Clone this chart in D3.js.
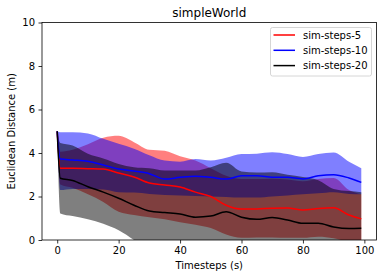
<!DOCTYPE html>
<html>
<head>
<meta charset="utf-8">
<script src="https://cdnjs.cloudflare.com/ajax/libs/d3/7.8.5/d3.min.js"></script>
<style>
  body { margin: 0; background: #fff; }
  svg { font-family: 'DejaVu Sans', sans-serif; }
</style>
</head>
<body>
<svg class="chart" width="386" height="278"></svg>
<script>
let steps = [0, 1, 5, 10, 15, 20, 25, 30, 35, 40, 45, 50, 55, 60, 65, 70, 75, 80, 85, 90, 95, 99];

let redMean = [5, 3.3, 3.3, 3.28, 3.26, 3.08, 2.9, 2.62, 2.53, 2.44, 2.2, 2.0, 1.6, 1.42, 1.43, 1.46, 1.47, 1.38, 1.45, 1.48, 1.15, 0.97];
let redLo = [5, 2.55, 2.4, 2.1, 1.75, 1.3, 1.15, 1.05, 0.95, 0.82, 0.7, 0.55, 0.25, 0.1, 0.12, 0.12, 0.1, 0.1, 0.15, 0.08, -0.1, -0.2];
let redHi = [5, 4.06, 4.15, 4.4, 4.7, 4.79, 4.5, 4.15, 4.1, 3.85, 3.65, 3.3, 2.95, 2.8, 2.8, 2.82, 2.78, 2.7, 2.8, 2.85, 2.3, 2.1];

let blueMean = [5, 3.72, 3.68, 3.62, 3.45, 3.26, 3.17, 3.05, 2.8, 2.88, 2.93, 2.88, 2.8, 2.95, 2.95, 2.89, 2.88, 2.81, 2.95, 3.0, 2.85, 2.65];
let blueLo = [5, 2.3, 2.35, 2.35, 2.32, 2.2, 2.18, 2.12, 2.07, 2.05, 2.02, 2.0, 1.98, 1.95, 1.95, 2.0, 2.05, 2.1, 2.15, 2.2, 2.12, 2.1];
let blueHi = [5, 4.95, 4.95, 4.9, 4.65, 4.42, 4.2, 3.9, 3.65, 3.6, 3.72, 3.65, 3.78, 3.95, 3.97, 4.03, 3.95, 3.82, 3.95, 4.02, 3.6, 3.3];

let blackMean = [5, 2.84, 2.74, 2.45, 2.2, 1.92, 1.6, 1.33, 1.26, 1.2, 1.05, 1.1, 1.3, 1.05, 0.95, 1.03, 0.92, 0.77, 0.77, 0.6, 0.53, 0.54];
let blackLo = [5, 1.22, 1.1, 0.95, 0.75, 0.45, 0.0, -0.5, -0.6, -0.7, -1.0, -1.1, -1.0, -1.1, -1.2, -1.1, -1.2, -1.3, -1.2, -1.1, -1.2, -1.1];
let blackHi = [5, 4.46, 4.35, 3.97, 3.75, 3.5, 3.35, 3.3, 3.2, 3.2, 3.2, 3.35, 3.55, 3.15, 3.1, 3.12, 3.0, 2.9, 2.75, 2.35, 2.25, 2.2];

let seriesNames = ['sim-steps-5', 'sim-steps-10', 'sim-steps-20'];
let seriesColors = ['red', 'blue', 'black'];
let xTicks = [0, 20, 40, 60, 80, 100];
let yTicks = [0, 2, 4, 6, 8, 10];

let series = [
  {mean: redMean, lo: redLo, hi: redHi},
  {mean: blueMean, lo: blueLo, hi: blueHi},
  {mean: blackMean, lo: blackLo, hi: blackHi}
];

let plotL = 42, plotR = 376.5, plotT = 22.5, plotB = 240;

let x = d3.scaleLinear().domain([-4.95, 103.95]).range([plotL, plotR]);
let y = d3.scaleLinear().domain([0, 10]).range([plotB, plotT]);

let svg = d3.select('svg.chart');

svg.append('clipPath')
  .attr('id', 'plotClip')
  .append('rect')
  .attr('x', plotL)
  .attr('y', plotT)
  .attr('width', plotR - plotL)
  .attr('height', plotB - plotT);

let plot = svg.append('g').attr('clip-path', 'url(#plotClip)');

let band = d3.area()
  .x((d, i) => x(steps[i]))
  .y0(d => y(d[0]))
  .y1(d => y(d[1]))
  .curve(d3.curveMonotoneX);

let line = d3.line()
  .x((d, i) => x(steps[i]))
  .y(d => y(d))
  .curve(d3.curveMonotoneX);

series.forEach((s, k) => {
  plot.append('path')
    .datum(s.lo.map((v, i) => [v, s.hi[i]]))
    .attr('d', band)
    .style('fill', seriesColors[k])
    .style('fill-opacity', 0.5)
    .style('stroke', 'none');
});

series.forEach((s, k) => {
  plot.append('path')
    .datum(s.mean)
    .attr('d', line)
    .style('fill', 'none')
    .style('stroke', seriesColors[k])
    .style('stroke-width', '1.5px');
});

// axes
let xAxis = svg.append('g')
  .attr('transform', `translate(0,${plotB})`)
  .call(d3.axisBottom(x).tickValues(xTicks).tickSizeOuter(0).tickSize(3.5).tickPadding(3.5));

let yAxis = svg.append('g')
  .attr('transform', `translate(${plotL},0)`)
  .call(d3.axisLeft(y).tickValues(yTicks).tickSizeOuter(0).tickSize(3.5).tickPadding(3.5));

[xAxis, yAxis].forEach(a => {
  a.select('.domain').remove();
  a.selectAll('.tick line').style('stroke', '#000').style('stroke-width', '0.8px');
  a.selectAll('.tick text')
    .style('font-family', "'DejaVu Sans', sans-serif")
    .style('font-size', '10px')
    .style('fill', '#000');
});

svg.append('rect')
  .attr('x', plotL)
  .attr('y', plotT)
  .attr('width', plotR - plotL)
  .attr('height', plotB - plotT)
  .style('fill', 'none')
  .style('stroke', '#000')
  .style('stroke-width', '0.8px');

svg.append('text')
  .attr('x', (plotL + plotR) / 2)
  .attr('y', 16.5)
  .attr('text-anchor', 'middle')
  .style('font-size', '12px')
  .text('simpleWorld');

svg.append('text')
  .attr('x', (plotL + plotR) / 2)
  .attr('y', 268.5)
  .attr('text-anchor', 'middle')
  .style('font-size', '10px')
  .text('Timesteps (s)');

svg.append('text')
  .attr('transform', `translate(15,${(plotT + plotB) / 2}) rotate(-90)`)
  .attr('text-anchor', 'middle')
  .style('font-size', '10px')
  .text('Euclidean Distance (m)');

// legend
let legend = svg.append('g');

legend.append('rect')
  .attr('x', 270.5)
  .attr('y', 27.5)
  .attr('width', 101)
  .attr('height', 48.5)
  .attr('rx', 2)
  .style('fill', '#fff')
  .style('fill-opacity', 0.8)
  .style('stroke', '#ccc')
  .style('stroke-width', '0.8px');

let rows = legend.selectAll('g.row')
  .data(seriesNames)
  .enter()
  .append('g')
  .attr('class', 'row')
  .attr('transform', (d, i) => `translate(0,${35 + i * 15.3})`);

rows.append('line')
  .attr('x1', 273.5)
  .attr('x2', 295)
  .style('stroke', (d, i) => seriesColors[i])
  .style('stroke-width', '1.5px');

rows.append('text')
  .attr('x', 303)
  .attr('y', 3.6)
  .style('font-size', '10px')
  .text(d => d);
</script>
</body>
</html>
